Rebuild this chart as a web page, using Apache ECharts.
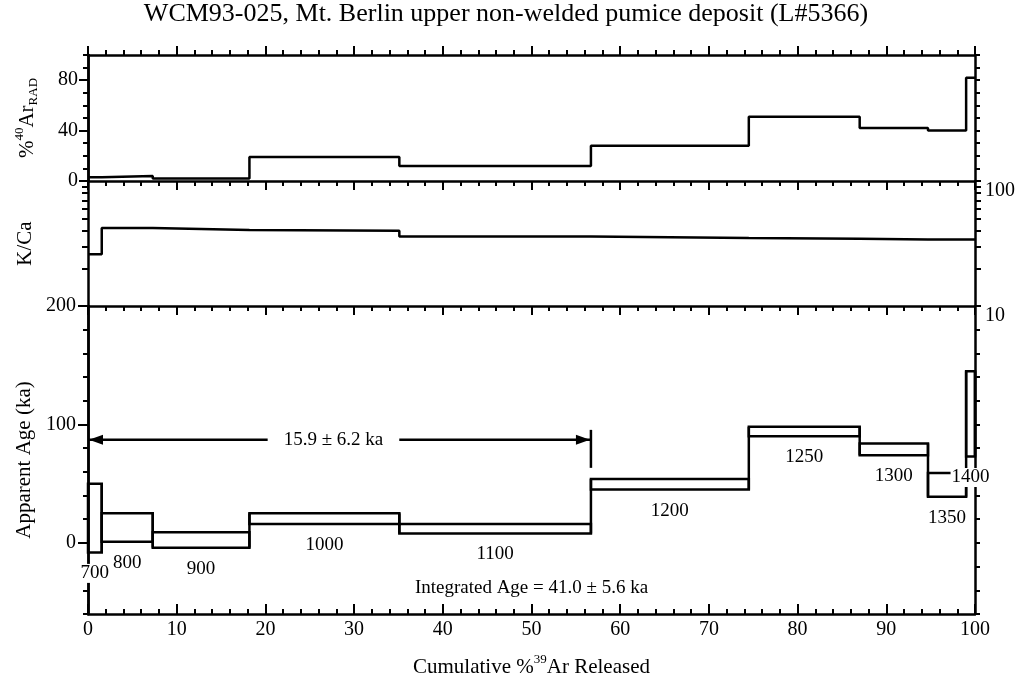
<!DOCTYPE html>
<html><head><meta charset="utf-8">
<script src="https://cdn.jsdelivr.net/npm/echarts@6/dist/echarts.min.js"></script>
<style>html,body{margin:0;padding:0;background:#fff}#c{width:1032px;height:678px}</style>
</head><body><div id="c"></div>
<script>
// ---- data ----
const temps   = [700, 800, 900, 1000, 1100, 1200, 1250, 1300, 1350, 1400];
const cum39   = [0, 1.55, 7.3, 18.2, 35.1, 56.7, 74.5, 87.0, 94.7, 99.0, 100];
const ageLow  = [-8, 1, -4, 16, 8, 45, 90, 74, 39, 73];
const ageHigh = [50, 25, 9, 25, 16, 54, 98, 84, 59, 145];
const radAr   = [3, 4, 2, 19, 12, 28, 51, 42, 40, 82];
const kCa     = [26, 42, 40.5, 40, 36, 35, 34.5, 34, 34, 34];
const plateauRange = [0, 56.7];
const plateauText = '15.9 \u00b1 6.2 ka';
const integratedText = 'Integrated Age = 41.0 \u00b1 5.6 ka';
const radArLabels = [0, 40, 80];
const ageLabels = [0, 100, 200];
const kCaLabels = [10, 100];
const kCaTicks = [10, 20, 30, 40, 50, 60, 70, 80, 90, 100];

// ---- layout / style ----
const FONT = '"Liberation Serif", "Times New Roman", serif';
const BLACK = '#000';
const annotLevel = 87;           // age-axis height of plateau arrow
const integratedPos = [50, -38]; // position of integrated-age text

function steps(vals) {
  const d = [];
  vals.forEach((v, i) => { d.push([cum39[i], v]); d.push([cum39[i + 1], v]); });
  return d;
}
// each row: x0, x1, low, high, temperature, next low, next high
const boxes = temps.map((t, i) => [cum39[i], cum39[i + 1], ageLow[i], ageHigh[i], t,
  i + 1 < temps.length ? ageLow[i + 1] : ageLow[i], i + 1 < temps.length ? ageHigh[i + 1] : ageHigh[i]]);

const lineS = { color: BLACK, width: 2.5 };
const tickS = { color: BLACK, width: 2 };
const lbl = { color: BLACK, fontFamily: FONT, fontSize: 20 };

function xAx(grid, pos, opts) {
  return Object.assign({
    type: 'value', gridIndex: grid, position: pos, min: 0, max: 100, interval: 10,
    axisLine: { show: true, onZero: false, lineStyle: lineS },
    axisTick: { show: true, length: 9, lineStyle: tickS },
    minorTick: { show: true, splitNumber: 5, length: 5, lineStyle: tickS },
    splitLine: { show: false }, minorSplitLine: { show: false },
    axisLabel: { show: false }
  }, opts || {});
}
function yAx(grid, pos, opts) {
  return Object.assign({
    type: 'value', gridIndex: grid, position: pos,
    axisLine: { show: true, onZero: false, lineStyle: lineS },
    axisTick: { show: true, length: 5, lineStyle: tickS },
    splitLine: { show: false },
    axisLabel: { show: false }
  }, opts || {});
}

const nameRich = {
  a: { fontFamily: FONT, fontSize: 21, color: BLACK, lineHeight: 22, verticalAlign: 'middle' },
  sup: { fontFamily: FONT, fontSize: 13, color: BLACK, lineHeight: 13, padding: [0, 0, 14, 0], verticalAlign: 'middle' },
  sub: { fontFamily: FONT, fontSize: 13, color: BLACK, lineHeight: 13, padding: [14, 0, 0, 0], verticalAlign: 'middle' }
};

const chart = echarts.init(document.getElementById('c'), null, { renderer: 'canvas' });
chart.setOption({
  animation: false,
  backgroundColor: '#fff',
  title: {
    text: 'WCM93-025, Mt. Berlin upper non-welded pumice deposit (L#5366)',
    left: 506, top: 1, textAlign: 'center', padding: 0,
    textStyle: { fontFamily: FONT, fontSize: 26, fontWeight: 'normal', color: BLACK }
  },
  grid: [
    { left: 88, right: 57, top: 55, height: 126, outerBoundsMode: 'none' },
    { left: 88, right: 57, top: 181, height: 125, outerBoundsMode: 'none' },
    { left: 88, right: 57, top: 306, height: 308, outerBoundsMode: 'none' }
  ],
  xAxis: [
    xAx(0, 'top'),
    xAx(0, 'bottom'),
    xAx(1, 'bottom'),
    xAx(2, 'bottom', {
      axisTick: { show: true, inside: true, length: 10, lineStyle: tickS },
      axisLabel: Object.assign({ show: true, margin: 6 }, lbl),
      name: '{a|Cumulative %}{sup|39}{a|Ar Released}',
      nameLocation: 'middle', nameGap: 42,
      nameTextStyle: { rich: nameRich }
    })
  ],
  yAxis: [
    yAx(0, 'left', {
      min: 0, max: 100, interval: 10,
      axisLabel: Object.assign({ show: true, margin: 10, customValues: radArLabels }, lbl),
      name: '{a|%}{sup|40}{a|Ar}{sub|RAD}', nameLocation: 'middle', nameRotate: 90, nameGap: 50,
      nameTextStyle: { rich: nameRich }
    }),
    yAx(0, 'left', { min: 0, max: 100, axisTick: { show: true, length: 9, customValues: radArLabels, lineStyle: tickS } }),
    yAx(0, 'right', { min: 0, max: 100, interval: 10 }),
    yAx(1, 'left', {
      type: 'log', logBase: 10, min: 10, max: 100,
      axisTick: { show: true, length: 6, customValues: kCaTicks, lineStyle: tickS },
      name: '{a|K/Ca}', nameLocation: 'middle', nameRotate: 90, nameGap: 52,
      nameTextStyle: { rich: nameRich }
    }),
    yAx(1, 'right', {
      type: 'log', logBase: 10, min: 10, max: 100,
      axisTick: { show: true, length: 6, customValues: kCaTicks, lineStyle: tickS },
      axisLabel: Object.assign({ show: true, margin: 10, customValues: kCaLabels, verticalAlign: 'top' }, lbl)
    }),
    yAx(2, 'left', {
      min: -60, max: 200, interval: 20,
      axisLabel: Object.assign({ show: true, margin: 12, customValues: ageLabels }, lbl),
      name: '{a|Apparent Age (ka)}', nameLocation: 'middle', nameRotate: 90, nameGap: 52,
      nameTextStyle: { rich: nameRich }
    }),
    yAx(2, 'left', { min: -60, max: 200, axisTick: { show: true, length: 10, customValues: ageLabels, lineStyle: tickS } }),
    yAx(2, 'right', { min: -60, max: 200, interval: 20 })
  ],
  series: [
    {
      type: 'line', xAxisIndex: 0, yAxisIndex: 0, data: steps(radAr),
      symbol: 'none', lineStyle: lineS, itemStyle: { color: BLACK }
    },
    {
      type: 'line', xAxisIndex: 2, yAxisIndex: 4, data: steps(kCa),
      symbol: 'none', lineStyle: lineS, itemStyle: { color: BLACK }
    },
    {
      type: 'custom', xAxisIndex: 3, yAxisIndex: 5, data: boxes, z: 3,
      renderItem: function (params, api) {
        const x0 = api.value(0), x1 = api.value(1), lo = api.value(2), hi = api.value(3);
        const nlo = api.value(5), nhi = api.value(6);
        const p0 = api.coord([x0, hi]), p1 = api.coord([x1, lo]);
        const c0 = api.coord([x1, Math.min(lo, nlo)]), c1 = api.coord([x1, Math.max(hi, nhi)]);
        return {
          type: 'group', children: [
            { type: 'rect', shape: { x: p0[0], y: p0[1], width: p1[0] - p0[0], height: p1[1] - p0[1] },
              style: { fill: 'none', stroke: BLACK, lineWidth: 2.5 } },
            { type: 'line', shape: { x1: c0[0], y1: c0[1], x2: c1[0], y2: c1[1] },
              style: { stroke: BLACK, lineWidth: 2.5 } }
          ]
        };
      }
    },
    {
      type: 'custom', xAxisIndex: 3, yAxisIndex: 5, data: boxes, z: 4,
      renderItem: function (params, api) {
        const x0 = api.value(0), x1 = api.value(1), lo = api.value(2);
        const m = api.coord([(x0 + x1) / 2, lo]);
        return { type: 'text', x: m[0], y: m[1] + 21,
          style: { text: String(api.value(4)), fill: BLACK, font: '19px ' + FONT, align: 'center', verticalAlign: 'middle',
                   backgroundColor: '#fff', padding: [0, 1] } };
      }
    },
    {
      type: 'custom', xAxisIndex: 3, yAxisIndex: 5, data: [[plateauRange[0], plateauRange[1], annotLevel]], z: 4,
      renderItem: function (params, api) {
        const a = api.coord([api.value(0), api.value(2)]);
        const b = api.coord([api.value(1), api.value(2)]);
        const txt = api.coord(integratedPos);
        return {
          type: 'group', children: [
            { type: 'line', shape: { x1: a[0], y1: a[1], x2: b[0], y2: b[1] }, style: { stroke: BLACK, lineWidth: 2.5 } },
            { type: 'polygon', shape: { points: [[a[0] + 1, a[1]], [a[0] + 15, a[1] - 5], [a[0] + 15, a[1] + 5]] }, style: { fill: BLACK } },
            { type: 'polygon', shape: { points: [[b[0] - 1, b[1]], [b[0] - 15, b[1] - 5], [b[0] - 15, b[1] + 5]] }, style: { fill: BLACK } },
            { type: 'line', shape: { x1: b[0], y1: b[1] - 10, x2: b[0], y2: b[1] + 28 }, style: { stroke: BLACK, lineWidth: 2.5 } },
            { type: 'text', x: (a[0] + b[0]) / 2 - 6, y: a[1],
              style: { text: plateauText, fill: BLACK, font: '19px ' + FONT, align: 'center', verticalAlign: 'middle',
                       backgroundColor: '#fff', padding: [2, 16] } },
            { type: 'text', x: txt[0], y: txt[1],
              style: { text: integratedText, fill: BLACK, font: '19px ' + FONT, align: 'center', verticalAlign: 'middle' } }
          ]
        };
      }
    }
  ]
});
</script>
</body></html>
